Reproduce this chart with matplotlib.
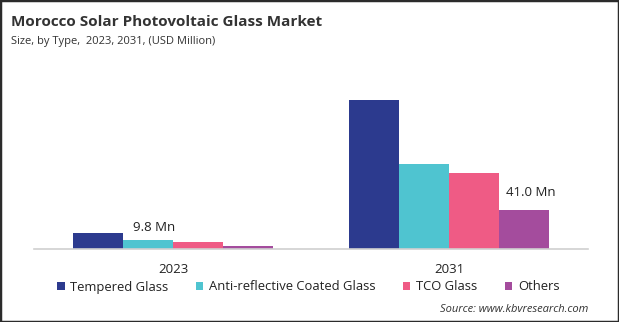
import matplotlib
matplotlib.use("Agg")
import matplotlib.pyplot as plt
from matplotlib.patches import Rectangle
import numpy as np

plt.rcParams['font.family'] = ['Open Sans', 'DejaVu Sans']

years = ["2023", "2031"]
types = ["Tempered Glass", "Anti-reflective Coated Glass", "TCO Glass", "Others"]
tempered = [16.5, 156.6]
anti_reflective = [9.8, 89.4]
tco = [7.4, 79.6]
others = [3.2, 41.0]
series = [tempered, anti_reflective, tco, others]
colors = ["#2C3A8E", "#4FC4D0", "#EF5B85", "#A44C9D"]

fig = plt.figure(figsize=(6.19, 3.22), dpi=100)
ax = fig.add_axes([34/619, 1-249/322, 554/619, 179/322])

x = np.arange(len(years))
w = 0.1815
bars = []
for i, (vals, c, name) in enumerate(zip(series, colors, types)):
    b = ax.bar(x + (i - 1.5) * w, vals, width=w, color=c, label=name, zorder=2)
    bars.append(b)

ax.set_xlim(-0.506, 1.505)
ax.set_ylim(0, 188)
for s in ["top", "right", "left"]:
    ax.spines[s].set_visible(False)
ax.spines["bottom"].set_color("#d0d0d0")
ax.spines["bottom"].set_linewidth(1.2)
ax.set_yticks([])
ax.set_xticks(x)
ax.set_xticklabels(years, fontsize=9.5, color="#222222")
ax.tick_params(axis="x", length=0, pad=10)

# value labels
ax.annotate("9.8 Mn", (bars[1][0].get_x() + w/2, anti_reflective[0]),
            xytext=(6, 12), textcoords="offset pixels", ha="center", va="center",
            fontsize=9.5, color="#222222")
ax.annotate("41.0 Mn", (bars[3][1].get_x() + w/2, others[1]),
            xytext=(7, 17), textcoords="offset pixels", ha="center", va="center",
            fontsize=9.5, color="#222222")

fig.text(11/619, 1-26/322, "Morocco Solar Photovoltaic Glass Market", fontsize=11,
         fontweight="bold", color="#333333", va="baseline", ha="left")
fig.text(11/619, 1-44/322, "Size, by Type,  2023, 2031, (USD Million)", fontsize=8,
         color="#333333", va="baseline", ha="left")

leg = fig.legend(handles=bars, labels=types, loc="center", bbox_to_anchor=(308.5/619, 1-287/322),
                 ncol=4, frameon=False, fontsize=9.4, handlelength=0.55, handleheight=0.55,
                 handletextpad=0.45, columnspacing=2.1, borderaxespad=0)
for t in leg.get_texts():
    t.set_color("#222222")

fig.text(588/619, 1-309/322, "Source: www.kbvresearch.com", fontsize=8, style="italic",
         color="#333333", ha="right", va="center")

fig.patches.append(Rectangle((0, 0), 1, 1, transform=fig.transFigure, fill=False,
                             edgecolor="#2b2b2b", linewidth=2.5))

fig.savefig("out.png", dpi=100)
